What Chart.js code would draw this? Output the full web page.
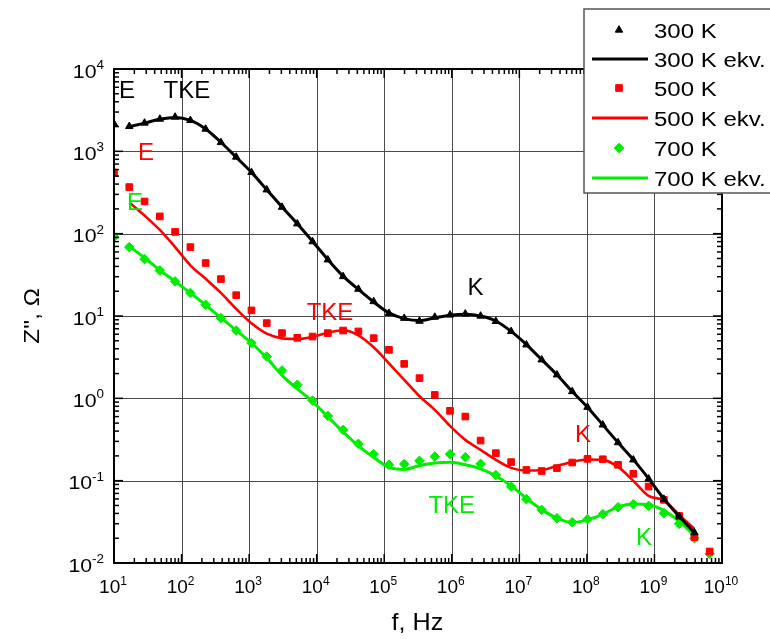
<!DOCTYPE html>
<html><head><meta charset="utf-8">
<script src="https://cdn.jsdelivr.net/npm/chart.js@4.4.1/dist/chart.umd.min.js"></script>
<style>html,body{margin:0;padding:0;background:#fff;}canvas{display:block;}</style>
</head><body>
<canvas id="c" width="770" height="639"></canvas>
<script>
// frequencies, Hz
const freqs = [10, 16.83, 28.33, 47.69, 80.26, 135.1, 227.3, 382.6, 644.0, 1084,
  1824, 3070, 5168, 8697, 14640, 24640, 41470, 69800, 117500, 197700,
  332700, 560000, 942400, 1.586e6, 2.670e6, 4.493e6, 7.562e6, 1.273e7, 2.142e7, 3.605e7,
  6.067e7, 1.021e8, 1.719e8, 2.893e8, 4.869e8, 8.195e8, 1.379e9, 2.321e9, 3.906e9, 6.575e9];

// Z'' measured, Ohm
const z300 = [2160, 2010, 2210, 2466, 2610, 2375, 1866, 1282, 853, 555,
  341, 210, 132, 80, 48.2, 30.2, 21.2, 15.0, 10.8, 9.4,
  8.67, 9.7, 10.3, 10.6, 10.0, 8.6, 6.5, 4.47, 2.94, 1.93,
  1.21, 0.78, 0.476, 0.290, 0.179, 0.105, 0.0596, 0.0367, 0.0234, null];
const z500 = [554, 368, 246, 162, 105, 68.7, 44, 28.1, 17.9, 11.7,
  8.2, 6.2, 5.43, 5.63, 6.2, 6.66, 6.5, 5.38, 3.88, 2.62,
  1.76, 1.10, 0.705, 0.601, 0.307, 0.216, 0.168, 0.135, 0.131, 0.142,
  0.166, 0.184, 0.182, 0.156, 0.121, 0.0848, 0.0585, 0.0373, 0.0206, 0.0138];
const z700 = [91, 68.7, 49.1, 35.7, 26.3, 19.0, 13.7, 9.42, 6.66, 4.69,
  3.22, 2.18, 1.46, 0.94, 0.612, 0.414, 0.280, 0.210, 0.156, 0.159,
  0.174, 0.196, 0.210, 0.193, 0.160, 0.117, 0.0848, 0.0596, 0.0442, 0.035,
  0.0313, 0.0341, 0.0392, 0.0476, 0.0518, 0.0494, 0.0403, 0.0299, 0.020, 0.0129];

// Z'' equivalent-circuit fits, Ohm
const z300fit = [null, 2000, 2200, 2450, 2580, 2380, 1870, 1290, 850, 555,
  342, 211, 132, 80.5, 48.5, 30.5, 21, 14.8, 10.9, 9.3,
  8.8, 9.5, 10.2, 10.5, 10.0, 8.7, 6.5, 4.5, 2.95, 1.93,
  1.21, 0.78, 0.476, 0.29, 0.18, 0.106, 0.06, 0.0367, 0.0234, null];
const z500fit = [null, 240, 166, 111, 68.7, 41.3, 28.3, 19.1, 12.2, 8.15,
  6.1, 5.35, 5.25, 5.59, 6.25, 6.7, 5.83, 4.17, 2.66, 1.68,
  1.06, 0.724, 0.463, 0.313, 0.237, 0.179, 0.143, 0.133, 0.135, 0.151,
  0.169, 0.181, 0.179, 0.147, 0.0995, 0.0653, 0.0577, 0.0384, 0.0259, null];
const z700fit = [null, 70, 51, 36, 26.3, 19, 13.6, 9.5, 6.7, 4.7,
  3.1, 1.90, 1.30, 0.914, 0.596, 0.392, 0.265, 0.192, 0.145, 0.137,
  0.153, 0.164, 0.167, 0.156, 0.139, 0.114, 0.0865, 0.061, 0.0445, 0.0352,
  0.031, 0.0335, 0.039, 0.048, 0.052, 0.051, 0.0435, 0.032, 0.0215, null];

const seriesNames = ['300 K', '300 K ekv.', '500 K', '500 K ekv.', '700 K', '700 K ekv.'];
const xTickValues = [1e1, 1e2, 1e3, 1e4, 1e5, 1e6, 1e7, 1e8, 1e9, 1e10];
const xTickExps = ['1', '2', '3', '4', '5', '6', '7', '8', '9', '10'];
const yTickValues = [1e-2, 1e-1, 1e0, 1e1, 1e2, 1e3, 1e4];
const yTickExps = ['-2', '-1', '0', '1', '2', '3', '4'];
// region labels: text, frequency, Z'' of label centre, colour
const annotations = [
  {t: 'E', x: 15.6, y: 5610, c: 'black'},
  {t: 'TKE', x: 120, y: 5610, c: 'black'},
  {t: 'E', x: 29.8, y: 989, c: 'red'},
  {t: 'E', x: 20.5, y: 244, c: 'green'},
  {t: 'TKE', x: 1.574e4, y: 11.2, c: 'red'},
  {t: 'K', x: 2.24e6, y: 22.6, c: 'black'},
  {t: 'K', x: 8.75e7, y: 0.371, c: 'red'},
  {t: 'TKE', x: 1.0e6, y: 0.0508, c: 'green'},
  {t: 'K', x: 7.0e8, y: 0.0208, c: 'green'}
];

const RED = '#ff0000', GREEN = '#00ee00', BLACK = '#000000';
const colorOf = {black: BLACK, red: RED, green: GREEN};
const FONT = "'Liberation Sans', Arial, Helvetica, sans-serif";
const pts = arr => freqs.map((f, i) => ({x: f, y: arr[i]}));

function txt(ctx, s, x, y, size, color, align, sx) {
  ctx.save();
  ctx.font = size + 'px ' + FONT;
  ctx.fillStyle = color;
  ctx.textBaseline = 'alphabetic';
  ctx.textAlign = align || 'left';
  ctx.translate(x, y);
  ctx.scale(sx || 1, 1);
  ctx.fillText(s, 0, 0);
  ctx.restore();
}
function tw(ctx, s, size, sx) {
  ctx.save(); ctx.font = size + 'px ' + FONT;
  const w = ctx.measureText(s).width * (sx || 1);
  ctx.restore(); return w;
}
function drawPow(ctx, exp, ax, by, align, sx, bs, es, rise) {
  const wb = tw(ctx, '10', bs, sx), we = tw(ctx, exp, es, sx);
  const total = wb + we;
  const left = align === 'right' ? ax - total : ax - total / 2;
  txt(ctx, '10', left, by, bs, '#000', 'left', sx);
  txt(ctx, exp, left + wb, by - rise, es, '#000', 'left', sx);
}

const framePlugin = {
  id: 'frame',
  beforeDatasetsDraw(chart) {
    const {ctx, chartArea: a, scales: {x, y}} = chart;
    ctx.save();
    ctx.strokeStyle = '#4a4a4a';
    ctx.lineWidth = 1;
    xTickValues.forEach(v => {
      const px = Math.round(x.getPixelForValue(v)) + 0.5;
      ctx.beginPath(); ctx.moveTo(px, a.top); ctx.lineTo(px, a.bottom); ctx.stroke();
    });
    yTickValues.forEach(v => {
      const py = Math.round(y.getPixelForValue(v)) + 0.5;
      ctx.beginPath(); ctx.moveTo(a.left, py); ctx.lineTo(a.right, py); ctx.stroke();
    });
    ctx.restore();
  },
  afterDatasetsDraw(chart) {
    const {ctx, chartArea: a, scales: {x, y}} = chart;
    ctx.save();
    ctx.strokeStyle = '#000';
    ctx.lineWidth = 1.5;
    for (let k = 0; k < xTickValues.length; k++) {
      const base = xTickValues[k];
      for (let m = 1; m <= 9; m++) {
        const v = base * m;
        if (v > 1e10 + 1) break;
        const px = x.getPixelForValue(v);
        const len = m === 1 ? 9 : 5;
        ctx.beginPath(); ctx.moveTo(px, a.bottom); ctx.lineTo(px, a.bottom - len); ctx.stroke();
        ctx.beginPath(); ctx.moveTo(px, a.top); ctx.lineTo(px, a.top + len); ctx.stroke();
      }
    }
    for (let k = 0; k < yTickValues.length; k++) {
      const base = yTickValues[k];
      for (let m = 1; m <= 9; m++) {
        const v = base * m;
        if (v > 1e4 + 1) break;
        const py = y.getPixelForValue(v);
        const len = m === 1 ? 9 : 5;
        ctx.beginPath(); ctx.moveTo(a.left, py); ctx.lineTo(a.left + len, py); ctx.stroke();
        ctx.beginPath(); ctx.moveTo(a.right, py); ctx.lineTo(a.right - len, py); ctx.stroke();
      }
    }
    ctx.lineWidth = 2;
    ctx.strokeRect(a.left, a.top, a.right - a.left, a.bottom - a.top);
    ctx.restore();

    xTickValues.forEach((v, i) => {
      drawPow(ctx, xTickExps[i], x.getPixelForValue(v) - 1, a.bottom + 30, 'center', 1.0, 19, 12, 8);
    });
    yTickValues.forEach((v, i) => {
      drawPow(ctx, yTickExps[i], a.left - 10, y.getPixelForValue(v) + 8.5, 'right', 1.12, 19, 12, 8.5);
    });
    txt(ctx, 'f, Hz', (a.left + a.right) / 2 - 0.5, 630, 24, '#000', 'center', 1.05);
    ctx.save();
    ctx.translate(39, (a.top + a.bottom) / 2);
    ctx.rotate(-Math.PI / 2);
    txt(ctx, "Z'', \u03A9", 0, 0, 22, '#000', 'center', 1.1);
    ctx.restore();

    annotations.forEach(an => {
      txt(ctx, an.t, x.getPixelForValue(an.x), y.getPixelForValue(an.y) + 8.5, 24, colorOf[an.c], 'center', 1.0);
    });

    const L = {left: 584, top: 9, bottom: 193, right: 772};
    ctx.save();
    ctx.fillStyle = '#fff';
    ctx.fillRect(L.left, L.top, L.right - L.left, L.bottom - L.top);
    ctx.strokeStyle = '#555';
    ctx.lineWidth = 1.5;
    ctx.strokeRect(L.left, L.top, L.right - L.left, L.bottom - L.top);
    ctx.restore();
    const rows = [30, 59, 88, 118, 148, 178];
    chart.data.datasets.forEach((ds, i) => {
      const cy = rows[i];
      ctx.save();
      if (ds.showLine === false) {
        ctx.fillStyle = ds.pointBackgroundColor;
        ctx.strokeStyle = ds.pointBorderColor;
        ctx.lineWidth = 1;
        Chart.helpers.drawPoint(ctx, {pointStyle: ds.pointStyle, radius: ds.pointRadius, borderWidth: 1, rotation: 0}, 619, cy);
      } else {
        ctx.strokeStyle = ds.borderColor;
        ctx.lineWidth = 3;
        ctx.beginPath(); ctx.moveTo(592, cy); ctx.lineTo(648, cy); ctx.stroke();
      }
      ctx.restore();
      txt(ctx, seriesNames[i], 654, cy + 7.5, 20, '#000', 'left', 1.2);
    });
  }
};

const pointDs = (label, arr, color, style, r) => ({
  label, data: pts(arr), showLine: false, pointStyle: style, pointRadius: r,
  pointBackgroundColor: color, pointBorderColor: color, pointBorderWidth: 1,
  borderColor: color, backgroundColor: color
});
const lineDs = (label, arr, color, w) => ({
  label, data: pts(arr), showLine: true, pointRadius: 0, borderColor: color,
  backgroundColor: color, borderWidth: w, tension: 0.4, cubicInterpolationMode: 'monotone'
});

new Chart(document.getElementById('c'), {
  type: 'line',
  data: {
    datasets: [
      pointDs(seriesNames[0], z300, BLACK, 'triangle', 4.3),
      lineDs(seriesNames[1], z300fit, BLACK, 3),
      pointDs(seriesNames[2], z500, RED, 'rect', 4.7),
      lineDs(seriesNames[3], z500fit, RED, 2.6),
      pointDs(seriesNames[4], z700, GREEN, 'rectRot', 4.8),
      lineDs(seriesNames[5], z700fit, GREEN, 3)
    ]
  },
  options: {
    responsive: false,
    animation: false,
    devicePixelRatio: 1,
    layout: {padding: {left: 114, right: 48, top: 69, bottom: 76}},
    plugins: {legend: {display: false}, tooltip: {enabled: false}, title: {display: false}},
    scales: {
      x: {type: 'logarithmic', min: 10, max: 1e10, display: false},
      y: {type: 'logarithmic', min: 0.01, max: 1e4, display: false}
    }
  },
  plugins: [framePlugin]
});
</script>
</body></html>
